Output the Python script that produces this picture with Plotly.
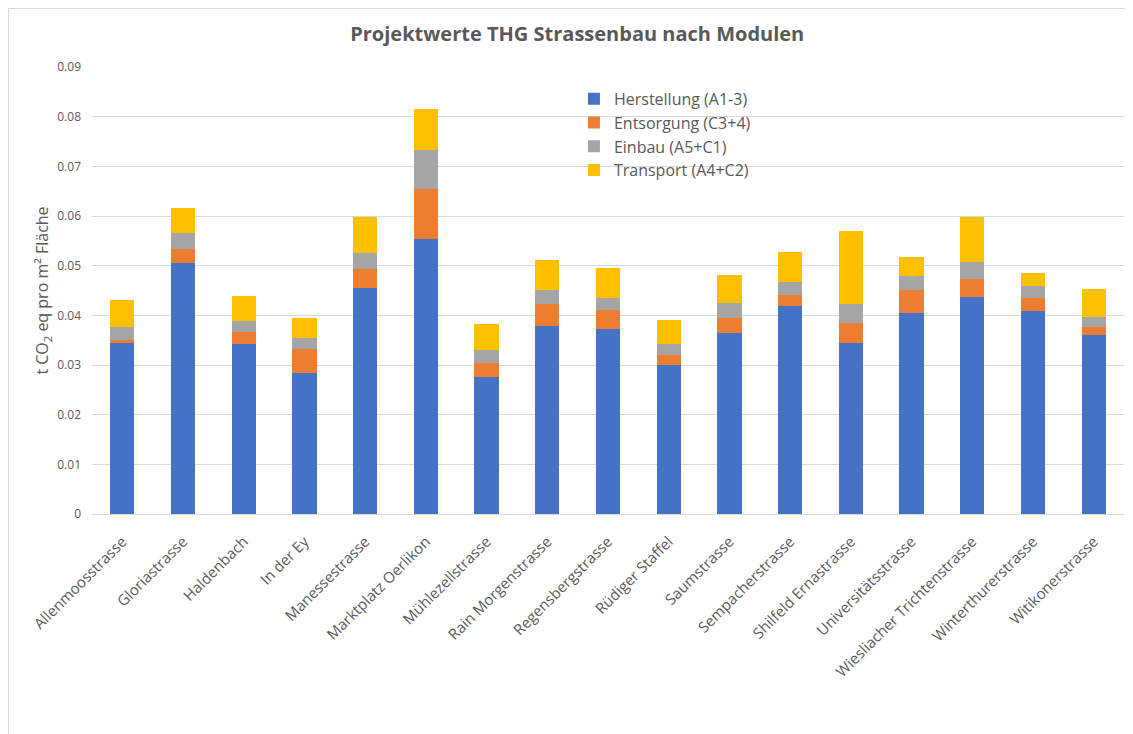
import plotly.graph_objects as go

# Projekte (Kategorien)
strassen = ["Allenmoosstrasse", "Gloriastrasse", "Haldenbach", "In der Ey", "Manessestrasse",
            "Marktplatz Oerlikon", "Mühlezellstrasse", "Rain Morgenstrasse", "Regensbergstrasse",
            "Rüdiger Staffel", "Saumstrasse", "Sempacherstrasse", "Shilfeld Ernastrasse",
            "Universitätsstrasse", "Wiesliacher Trichtenstrasse", "Winterthurerstrasse",
            "Witikonerstrasse"]

# t CO2 eq pro m2
herstellung = [0.0345, 0.0505, 0.0342, 0.0283, 0.0455, 0.0554, 0.0276, 0.0379, 0.0373,
               0.0300, 0.0364, 0.0418, 0.0344, 0.0405, 0.0437, 0.0408, 0.0361]
entsorgung = [0.0005, 0.0028, 0.0024, 0.0049, 0.0038, 0.0100, 0.0028, 0.0044, 0.0038,
              0.0020, 0.0031, 0.0022, 0.0041, 0.0047, 0.0036, 0.0027, 0.0015]
einbau = [0.0026, 0.0033, 0.0023, 0.0022, 0.0032, 0.0079, 0.0026, 0.0029, 0.0023,
          0.0022, 0.0029, 0.0027, 0.0038, 0.0027, 0.0035, 0.0025, 0.0020]
transport = [0.0055, 0.0051, 0.0050, 0.0040, 0.0072, 0.0082, 0.0052, 0.0059, 0.0061,
             0.0048, 0.0057, 0.0060, 0.0147, 0.0038, 0.0089, 0.0025, 0.0058]

y_ticks = [0, 0.01, 0.02, 0.03, 0.04, 0.05, 0.06, 0.07, 0.08, 0.09]

grau = "#595959"
font_family = "Open Sans"

# the page body has an 8px margin, so the figure is a bit smaller
W, H = 1125, 726
ML, MR, MT, MB = 84, 9, 59, 220

fig = go.Figure()
for name, vals, col in [("Herstellung (A1-3)", herstellung, "#4472C4"),
                        ("Entsorgung (C3+4)", entsorgung, "#ED7D31"),
                        ("Einbau (A5+C1)", einbau, "#A5A5A5"),
                        ("Transport (A4+C2)", transport, "#FFC000")]:
    fig.add_trace(go.Bar(x=strassen, y=vals, name=name, marker=dict(color=col, line_width=0)))

#X-Axis
fig.update_xaxes(tickangle=-45, tickfont=dict(size=15, color=grau), showline=True,
                 linecolor="#D9D9D9", linewidth=1, ticks="", ticklabelstandoff=12,
                 automargin=False)

#Y-axis
fig.update_yaxes(title_text="t CO<sub>2</sub> eq pro m² Fläche",
                 title_font=dict(size=16, color=grau), title_standoff=4,
                 range=[0, 0.09], tickvals=y_ticks, ticktext=[f"{v:g}" for v in y_ticks],
                 tickfont=dict(size=12, color=grau), gridcolor="#D9D9D9", gridwidth=1,
                 zeroline=False, ticks="", ticklabelstandoff=10, automargin=False)

pw = W - ML - MR
ph = H - MT - MB

# Layout
fig.update_layout(title={"text": "<b>Projektwerte THG Strassenbau nach Modulen</b>",
                         "x": 0.506, "y": 1 - 26/H, "xanchor": "center", "yanchor": "middle",
                         "font": dict(size=20, color=grau)},
                  width=W, height=H,
                  margin=dict(l=ML, r=MR, t=MT, b=MB),
                  barmode="stack", bargap=0.6,
                  plot_bgcolor="white", paper_bgcolor="white",
                  font=dict(family=font_family, color=grau),
                  legend=dict(x=0.467, y=0.967, xanchor="left", yanchor="top",
                              traceorder="normal", font=dict(size=16, color=grau),
                              bgcolor="rgba(0,0,0,0)"),
                  showlegend=True)

# Rahmen um das Diagramm (links und oben sichtbar)
fig.add_shape(type="rect", xref="paper", yref="paper",
              x0=(0.5 - ML)/pw, x1=1.02, y0=-0.6, y1=(ph + MT - 0.5)/ph,
              line=dict(color="#D9D9D9", width=1), fillcolor="rgba(0,0,0,0)", layer="below")

fig.write_html("out.html")
